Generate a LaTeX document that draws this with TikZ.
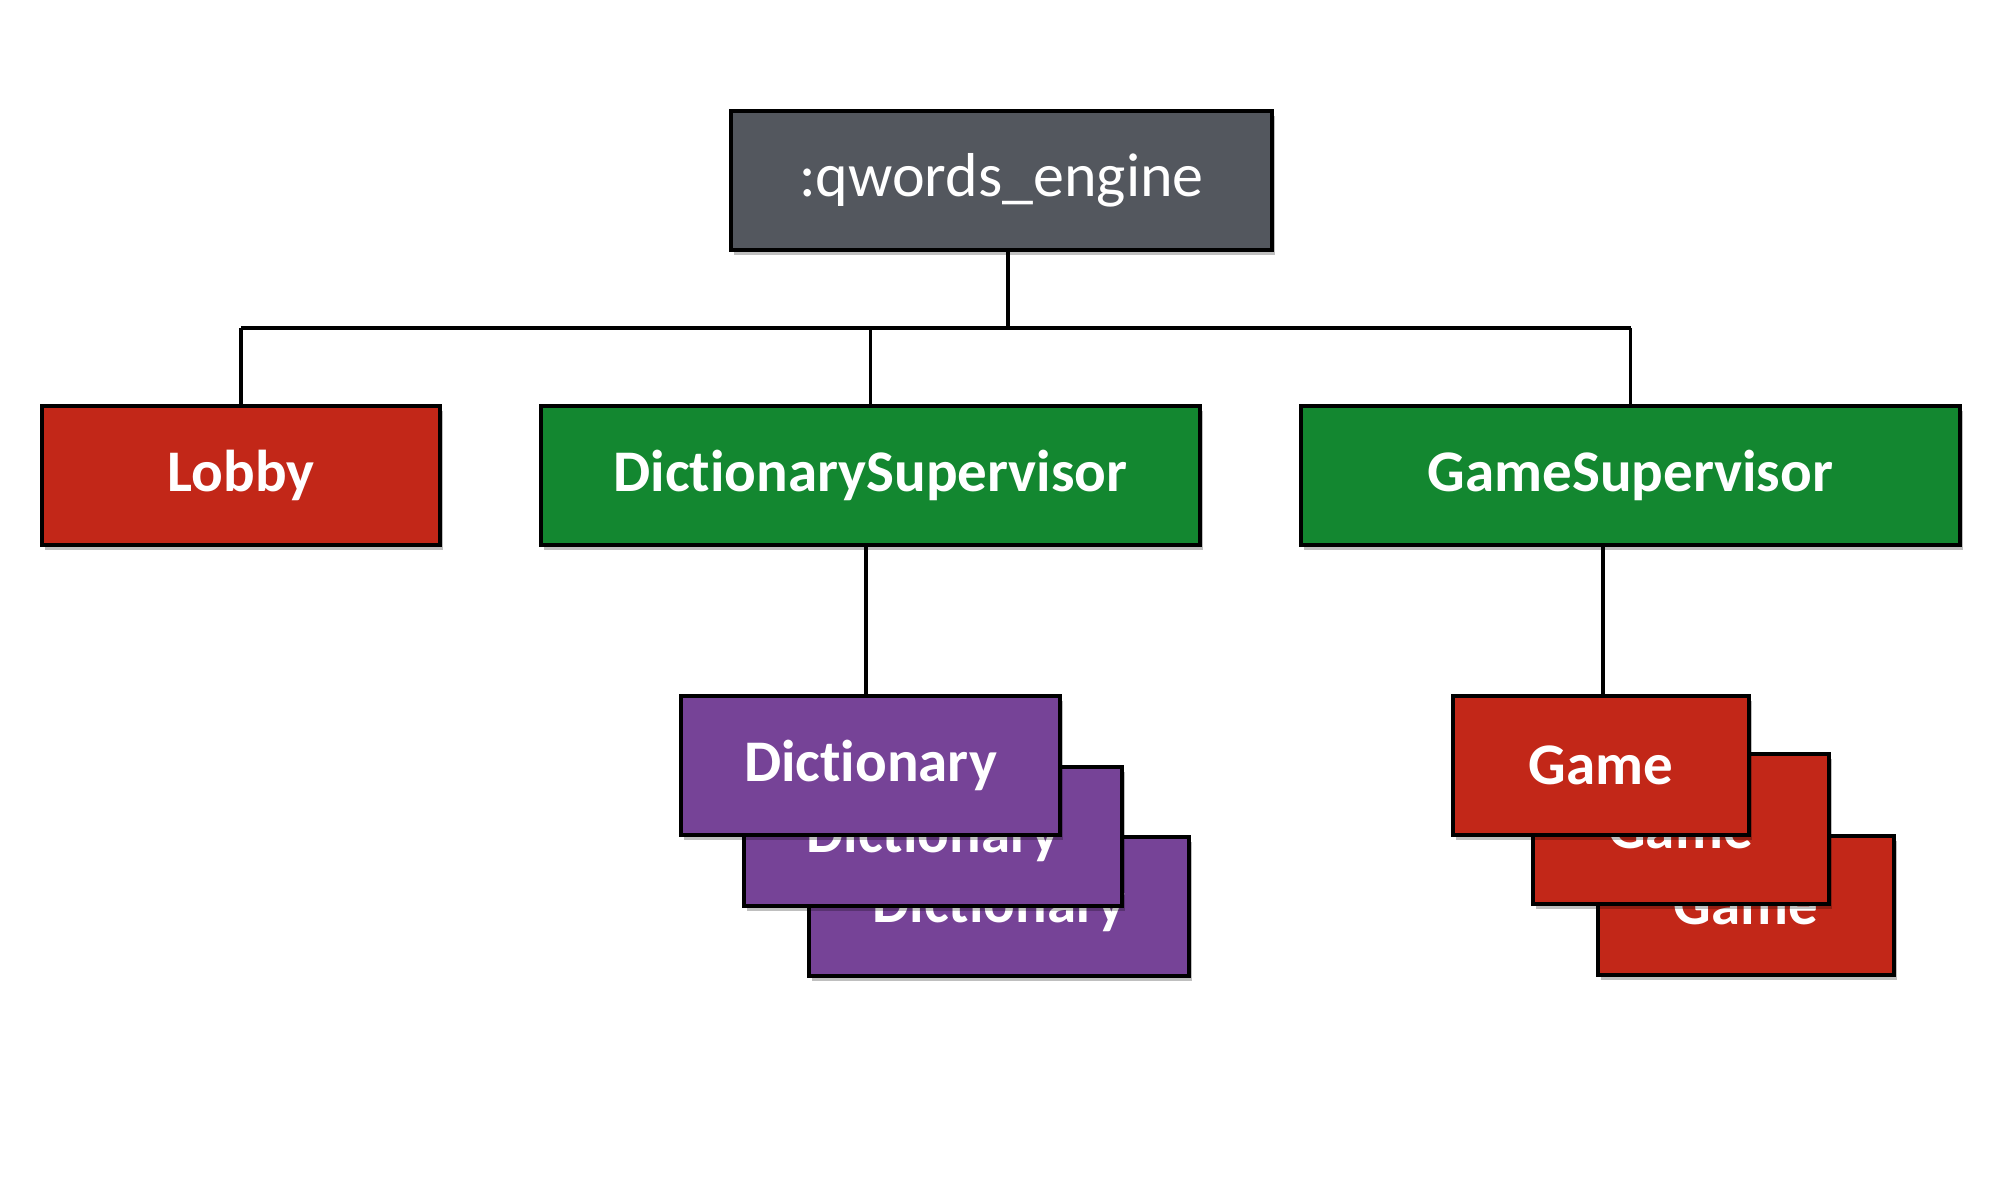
\documentclass[tikz,border=0pt]{standalone}
\usepackage{fontspec}
\setmainfont[RawFeature=-liga]{Carlito}
\usetikzlibrary{shadows}
\definecolor{cgray}{RGB}{83,87,94}
\definecolor{cred}{RGB}{194,39,24}
\definecolor{cgreen}{RGB}{19,135,48}
\definecolor{cpurple}{RGB}{118,67,151}
\tikzset{
  box/.style={draw=black, line width=4pt, text=white, inner sep=0pt,
    minimum height=139pt, anchor=center,
    drop shadow={shadow xshift=3pt, shadow yshift=-5pt, opacity=0.25, fill=black}},
  lbl/.style={font=\fontsize{59}{66}\selectfont\bfseries},
  conn/.style={draw=black, line width=3.5pt}
}
\begin{document}
\begin{tikzpicture}[x=1pt,y=-1pt]
\useasboundingbox (0,0) rectangle (2000,1200);
% top
\node[box, fill=cgray, minimum width=541pt, font=\fontsize{62}{68}\selectfont] (eng) at (1001.5,180.5) {:qwords\_engine};
% level 2
\node[box, fill=cred, minimum width=398pt, lbl] (lobby) at (241,475.5) {Lobby};
\node[box, fill=cgreen, minimum width=659pt, lbl] (dsup) at (870.5,475.5) {DictionarySupervisor};
\node[box, fill=cgreen, minimum width=659pt, lbl] (gsup) at (1630.5,475.5) {GameSupervisor};
% dictionaries
\node[box, fill=cpurple, minimum width=380pt, lbl] (d3) at (999,906.5) {Dictionary};
\node[box, fill=cpurple, minimum width=378pt, lbl] (d2) at (933,836.5) {Dictionary};
\node[box, fill=cpurple, minimum width=379pt, lbl] (d1) at (870.5,765.5) {Dictionary};
% games
\node[box, fill=cred, minimum width=296pt, lbl] (g3) at (1746,905) {Game};
\node[box, fill=cred, minimum width=296pt, minimum height=150pt, lbl] (g2) at (1680.5,829) {Game};
\node[box, fill=cred, minimum width=296pt, lbl] (g1) at (1601,765.5) {Game};
% connectors
\coordinate (hl) at (241,328);
\coordinate (hr) at (1630.5,328);
\coordinate (he) at (1008,328);
\draw[conn] ([xshift=6.5pt]eng.south) -- (he);
\draw[conn] (hl) -- (hr);
\draw[conn] (hl) -- (lobby.north);
\draw[conn] (dsup.north |- hl) -- (dsup.north);
\draw[conn] (hr) -- (gsup.north);
\draw[conn] (866,545) coordinate (dtop) -- (dtop |- d1.north);
\draw[conn] (1603,545) coordinate (gtop) -- (gtop |- g1.north);
\end{tikzpicture}
\end{document}
